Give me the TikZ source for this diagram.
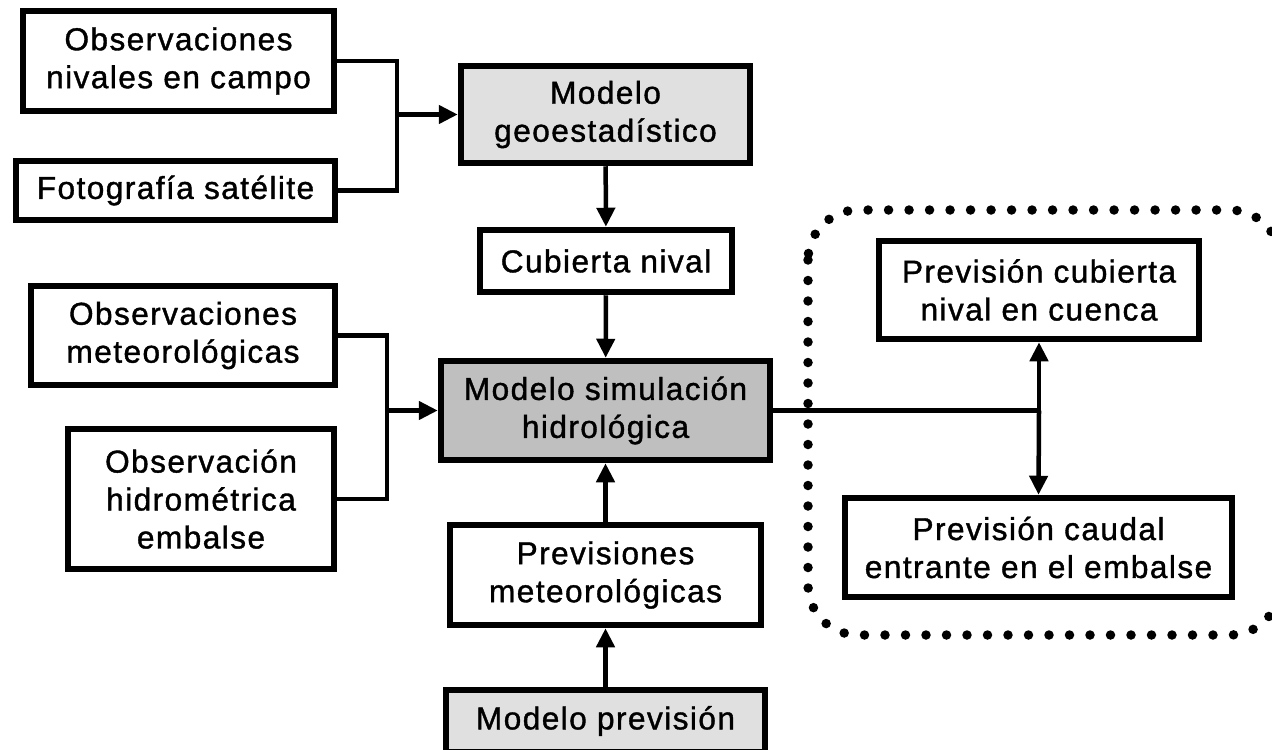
\documentclass[tikz,border=0pt]{standalone}
\usepackage{fontspec}
\setmainfont{Liberation Sans}
\newfontfamily\boxfont[LetterSpace=4.5, FakeBold=1.2]{Liberation Sans}
\usepackage{tikz}
\usetikzlibrary{arrows.meta}

\begin{document}
\begin{tikzpicture}[
		every node/.style={rectangle, draw, line width=0.12cm, align=center, inner sep=0pt,
			font=\boxfont\fontsize{18}{21.6}\selectfont},
		conn/.style={line width=0.09cm},
		arr/.style={conn, -{Triangle[length=0.38cm, width=0.36cm]}},
		box_light/.style={fill=black!12},
		box_dark/.style={fill=black!25}
	]
  \useasboundingbox (0cm, 0cm) rectangle (25.44cm, -14.98cm);
  \clip (0cm, 0cm) rectangle (25.44cm, -14.98cm);
  \node (obs_nival) [minimum width=6.22cm, minimum height=2.00cm] at (3.57cm, -1.22cm) {Observaciones\\nivales en campo};
  \node (foto_sat) [minimum width=6.39cm, minimum height=1.19cm] at (3.51cm, -3.81cm) {Fotografía satélite};
  \node (mod_geo) [box_light, minimum width=5.79cm, minimum height=1.95cm] at (12.11cm, -2.29cm) {Modelo\\geoestadístico};
  \node (cub_nival) [minimum width=5.05cm, minimum height=1.25cm] at (12.12cm, -5.22cm) {Cubierta nival};
  \node (obs_met) [minimum width=6.09cm, minimum height=1.99cm] at (3.66cm, -6.71cm) {Observaciones\\meteorológicas};
  \node (obs_hid) [minimum width=5.33cm, minimum height=2.81cm] at (4.02cm, -9.98cm) {Observación\\hidrométrica\\embalse};
  \node (mod_sim) [box_dark, minimum width=6.59cm, minimum height=1.99cm] at (12.11cm, -8.21cm) {Modelo simulación\\hidrológica};
  \node (prev_met) [minimum width=6.23cm, minimum height=2.01cm] at (12.11cm, -11.50cm) {Previsiones\\meteorológicas};
  \node (mod_prev) [box_light, minimum width=6.39cm, minimum height=1.25cm] at (12.11cm, -14.42cm) {Modelo previsión};
  \node (prev_cub) [minimum width=6.41cm, minimum height=1.97cm] at (20.78cm, -5.80cm) {Previsión cubierta\\nival en cuenca};
  \node (prev_caudal) [minimum width=7.75cm, minimum height=1.99cm] at (20.77cm, -10.95cm) {Previsión caudal\\entrante en el embalse};
  \coordinate (j_1) at (7.94cm, -2.29cm);
  \coordinate (j_2) at (7.74cm, -8.21cm);
  \coordinate (j_3) at (20.78cm, -8.21cm);
  \draw [line width=0.19cm, line cap=round, dash pattern=on 0pt off 0.41cm, rounded corners=1cm]
    (16.16cm, -4.20cm) rectangle (25.60cm, -12.70cm);
  \draw [conn] (obs_nival.east) -| (j_1) |- (foto_sat.east);
  \draw [arr] (j_1) -- (mod_geo.west);
  \draw [arr] (mod_geo) -- (cub_nival);
  \draw [arr] (cub_nival) -- (mod_sim);
  \draw [conn] (obs_met.east) -| (j_2) |- (obs_hid.east);
  \draw [arr] (j_2) -- (mod_sim.west);
  \draw [arr] (prev_met) -- (mod_sim);
  \draw [arr] (mod_prev) -- (prev_met);
  \draw [conn] (mod_sim.east) -- (j_3);
  \draw [arr] (j_3) -- (prev_cub.south);
  \draw [arr] (j_3) -- (prev_caudal.north);
\end{tikzpicture}
\end{document}
